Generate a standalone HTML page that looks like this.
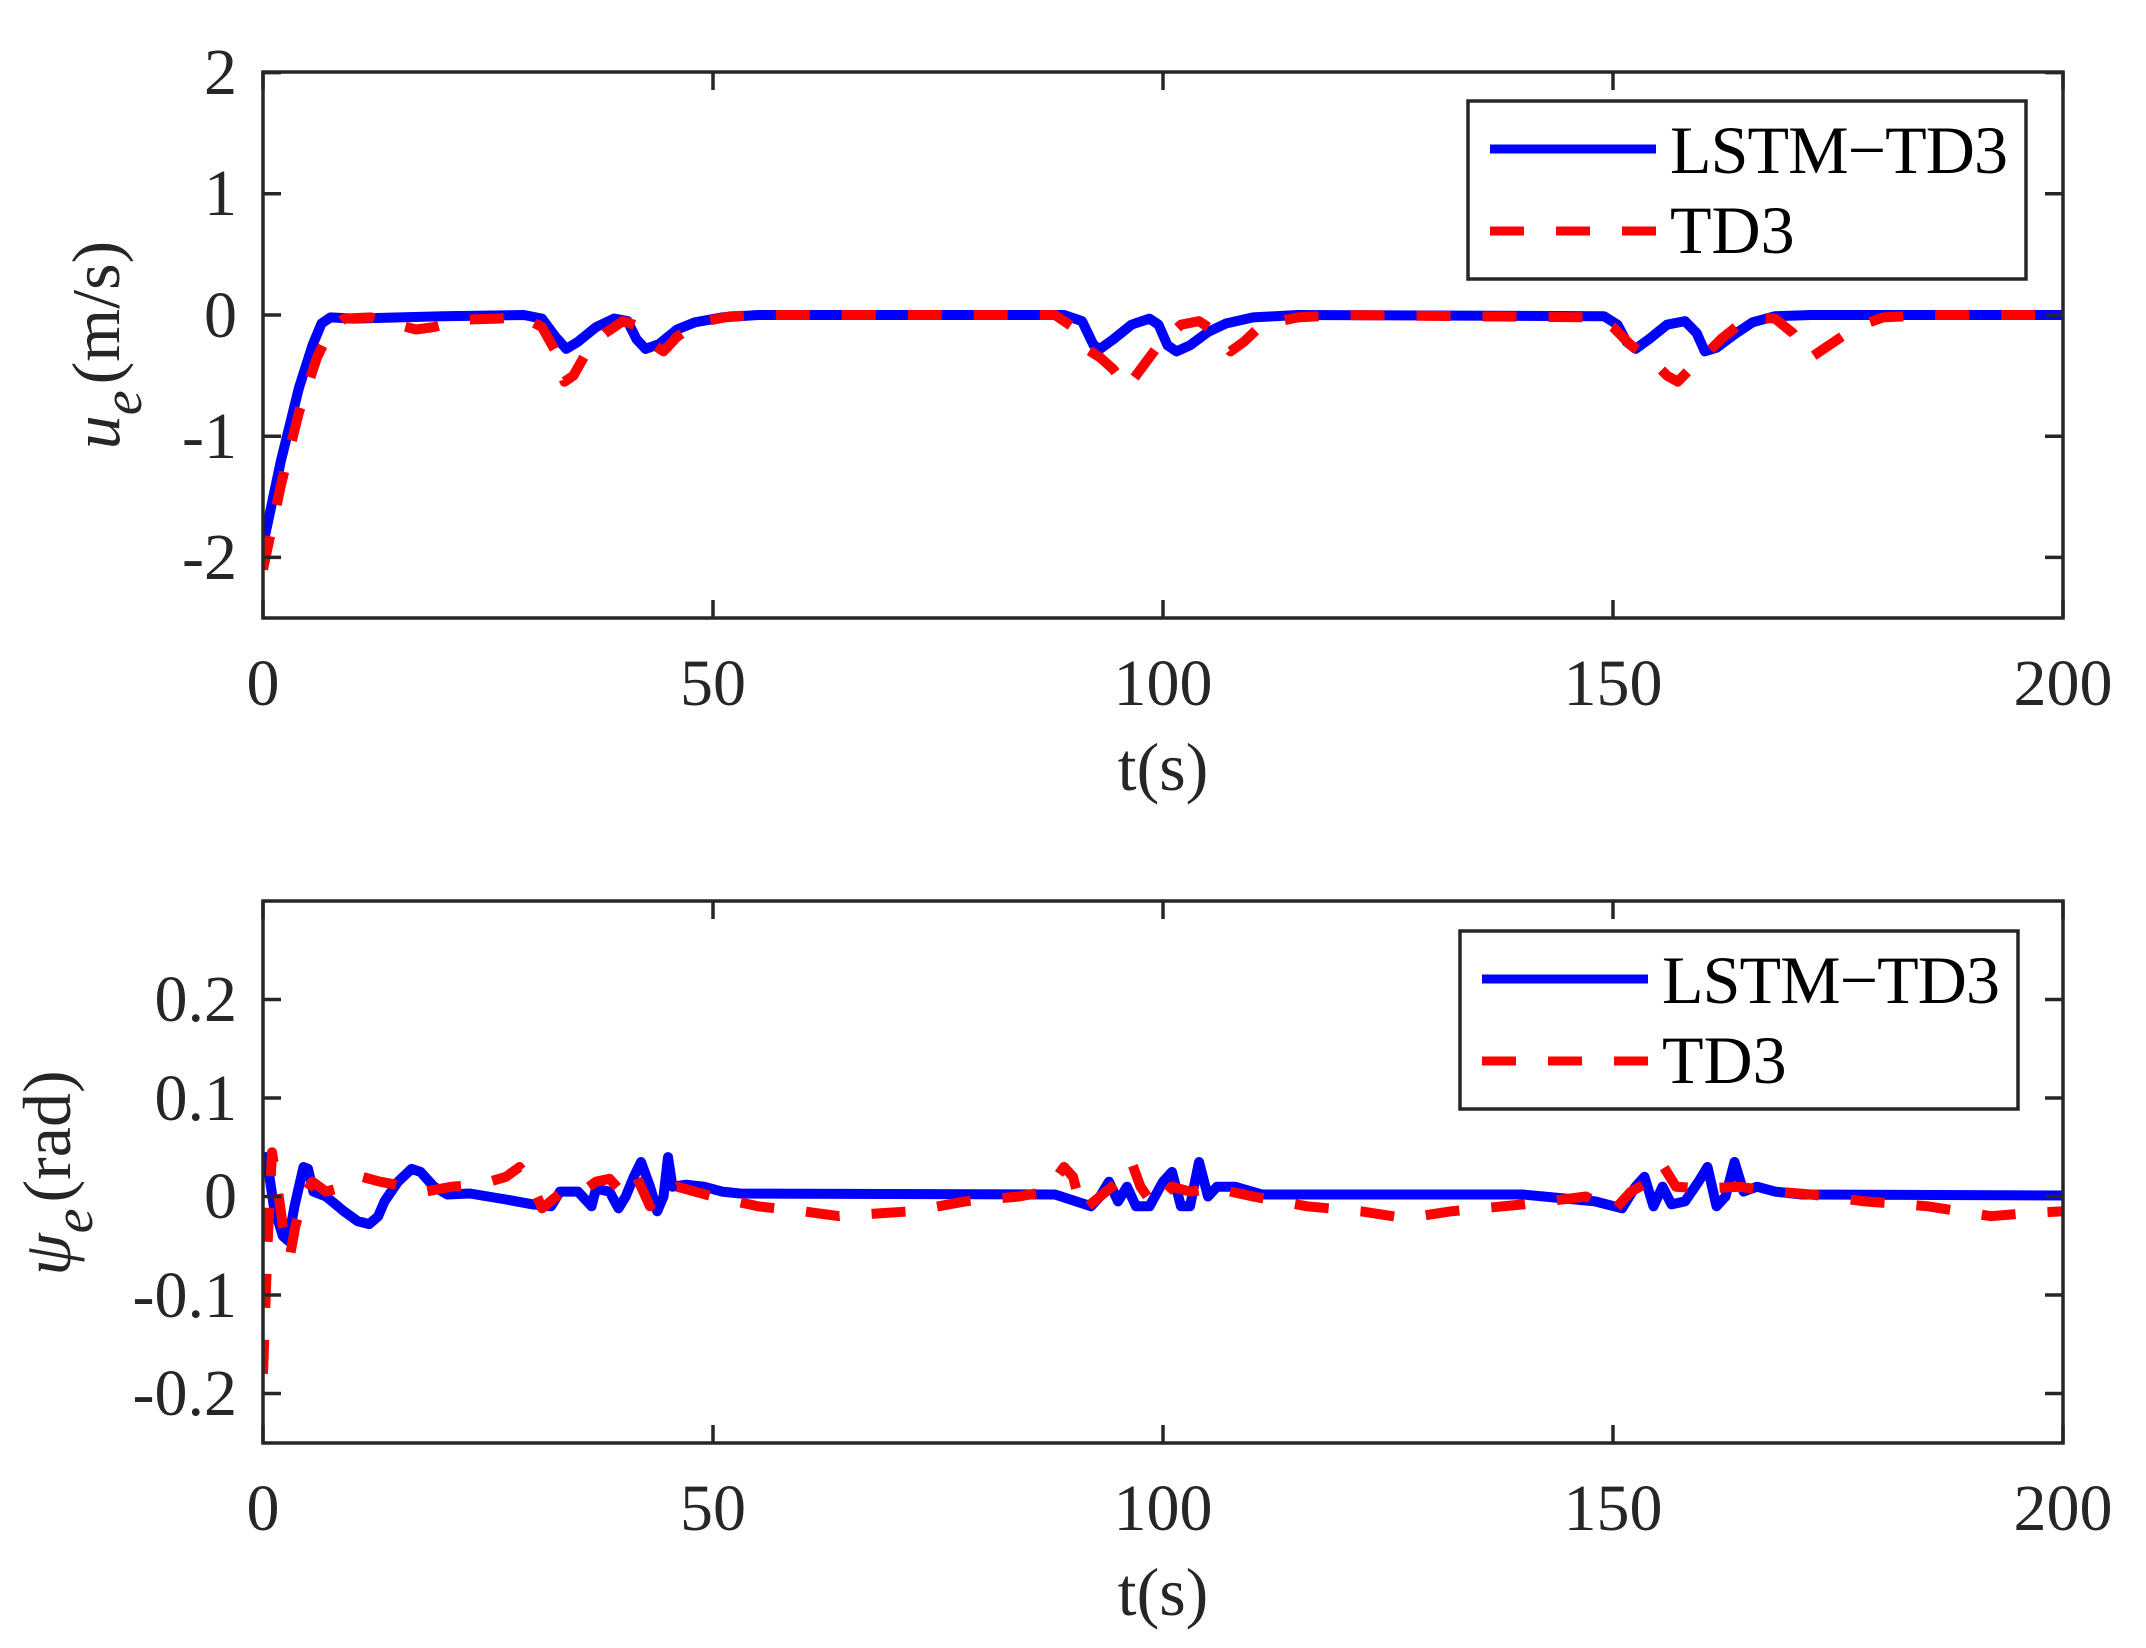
<!DOCTYPE html>
<html><head><meta charset="utf-8">
<style>
html,body{margin:0;padding:0;background:#fff;}
svg{display:block;}
text{font-family:"Liberation Serif","DejaVu Serif",serif;fill:#262626;}
</style></head>
<body>
<svg id="s" width="2146" height="1648" viewBox="0 0 2146 1648" xmlns="http://www.w3.org/2000/svg">
<defs>
<clipPath id="c1"><rect x="263" y="72" width="1800" height="546"/></clipPath>
<clipPath id="c2"><rect x="263" y="901" width="1800" height="542"/></clipPath>
</defs>
<rect width="2146" height="1648" fill="#fff"/>
<g id="plots"></g>
<g stroke="#262626" stroke-width="3.5" fill="none">
<rect x="263" y="72" width="1800" height="546"/>
<rect x="263" y="901" width="1800" height="542"/>
<path id="ticks" d=""/>
</g>
<g font-size="66" text-anchor="end">
<text x="237" y="94">2</text>
<text x="237" y="215">1</text>
<text x="237" y="337">0</text>
<text x="237" y="458">-1</text>
<text x="237" y="579">-2</text>
<text x="237" y="1021">0.2</text>
<text x="237" y="1120">0.1</text>
<text x="237" y="1218">0</text>
<text x="237" y="1317">-0.1</text>
<text x="237" y="1415">-0.2</text>
</g>
<g font-size="66" text-anchor="middle">
<text x="263" y="705">0</text>
<text x="713" y="705">50</text>
<text x="1163" y="705">100</text>
<text x="1613" y="705">150</text>
<text x="2063" y="705">200</text>
<text x="263" y="1530">0</text>
<text x="713" y="1530">50</text>
<text x="1163" y="1530">100</text>
<text x="1613" y="1530">150</text>
<text x="2063" y="1530">200</text>
<text x="1163" y="790" font-size="68">t(s)</text>
<text x="1163" y="1615" font-size="68">t(s)</text>
</g>
<text transform="translate(119,345) rotate(-90)" text-anchor="middle" font-size="68"><tspan font-style="italic">u</tspan><tspan font-style="italic" font-size="56" dy="22">e</tspan><tspan dy="-22" dx="6">(m/s)</tspan></text>
<text transform="translate(70,1173) rotate(-90)" text-anchor="middle" font-size="68"><tspan font-style="italic">ψ</tspan><tspan font-style="italic" font-size="56" dy="22">e</tspan><tspan dy="-22" dx="6">(rad)</tspan></text>
<g>
<rect x="1468" y="101" width="558" height="178" fill="#fff" stroke="#262626" stroke-width="3.5"/>
<line x1="1490" y1="149" x2="1656" y2="149" stroke="#0000ff" stroke-width="9"/>
<line x1="1490" y1="231" x2="1656" y2="231" stroke="#ff0000" stroke-width="9" stroke-dasharray="34 32"/>
<text x="1670" y="173" font-size="68" textLength="338" style="fill:#000">LSTM−TD3</text>
<text x="1670" y="253" font-size="68" style="fill:#000">TD3</text>
<rect x="1460" y="931" width="558" height="178" fill="#fff" stroke="#262626" stroke-width="3.5"/>
<line x1="1482" y1="979" x2="1648" y2="979" stroke="#0000ff" stroke-width="9"/>
<line x1="1482" y1="1061" x2="1648" y2="1061" stroke="#ff0000" stroke-width="9" stroke-dasharray="34 32"/>
<text x="1662" y="1003" font-size="68" textLength="338" style="fill:#000">LSTM−TD3</text>
<text x="1662" y="1083" font-size="68" style="fill:#000">TD3</text>
</g>
</svg>
<script>
(function(){
var NS="http://www.w3.org/2000/svg";
function X(t){return 263+t*9;}
function path(pts,yf){var d="";for(var i=0;i<pts.length;i++){d+=(i?"L":"M")+X(pts[i][0]).toFixed(1)+","+yf(pts[i][1]).toFixed(1);}return d;}
var y1=function(v){return 315-v*121.2;};
var y2=function(v){return 1196.5-v*985;};
var b1=[[0,-1.9],[2,-1.2],[4,-0.6],[5.5,-0.25],[6.5,-0.07],[7.5,-0.02],[10,-0.03],[20,-0.01],[29,0],[31,-0.03],[32.5,-0.18],[33.7,-0.28],[35,-0.22],[37,-0.1],[39,-0.03],[40.5,-0.05],[41.5,-0.2],[42.5,-0.28],[44,-0.24],[46,-0.12],[48,-0.06],[51,-0.02],[55,0],[89,0],[91,-0.05],[92.3,-0.25],[93,-0.28],[94.5,-0.2],[96.5,-0.08],[98.5,-0.03],[99.5,-0.08],[100.5,-0.25],[101.5,-0.3],[103,-0.25],[105,-0.14],[107,-0.07],[110,-0.02],[115,0],[149,-0.01],[150.5,-0.08],[151.5,-0.22],[152.5,-0.28],[154,-0.2],[156,-0.08],[158,-0.05],[159.3,-0.15],[160.2,-0.3],[161.5,-0.27],[163.5,-0.16],[165.5,-0.06],[168,-0.01],[172,0],[200,0]];
var r1=[[0,-2.1],[2,-1.4],[4,-0.8],[6,-0.35],[7.5,-0.12],[9,-0.03],[12,-0.02],[15,-0.08],[17,-0.12],[19,-0.1],[22,-0.04],[26,-0.03],[29,-0.02],[31,-0.1],[32.5,-0.3],[33.5,-0.55],[34.5,-0.5],[36,-0.3],[38,-0.15],[40,-0.05],[42,-0.1],[43.5,-0.25],[44.5,-0.3],[46,-0.18],[48.5,-0.06],[52,-0.01],[56,0],[88,0],[90,-0.1],[91.5,-0.28],[93,-0.35],[94.5,-0.45],[96,-0.6],[97.5,-0.45],[99.5,-0.25],[102,-0.08],[104,-0.05],[106,-0.15],[107.5,-0.3],[109,-0.22],[111,-0.08],[115,-0.02],[120,0],[148,-0.02],[150,-0.1],[152,-0.25],[154,-0.35],[156,-0.5],[157.2,-0.55],[158.5,-0.45],[160,-0.35],[162,-0.2],[164,-0.08],[166,-0.02],[168,-0.03],[170,-0.15],[172,-0.35],[174,-0.25],[177,-0.1],[180,-0.02],[185,0],[200,0]];
var b2=[[0,0.04],[0.4,0.04],[1.2,-0.01],[2.2,-0.04],[2.8,-0.045],[3.5,-0.01],[4.5,0.03],[5,0.028],[5.6,0.005],[7,0],[9,-0.015],[10.5,-0.025],[11.8,-0.028],[12.8,-0.02],[13.5,-0.005],[15,0.015],[16.5,0.028],[17.5,0.025],[19,0.01],[20.5,0.002],[23,0.003],[27,-0.003],[30,-0.008],[32,-0.01],[33,0.005],[35,0.005],[36.5,-0.01],[37,0.008],[38.5,0.005],[39.5,-0.012],[40.3,0],[41.2,0.02],[42,0.035],[43,0.01],[43.8,-0.015],[44.5,0],[45,0.04],[45.5,0.01],[47,0.012],[49,0.01],[51,0.005],[53,0.003],[88,0.002],[92,-0.01],[93,0],[94,0.015],[95,-0.005],[96,0.01],[97,-0.01],[98.5,-0.01],[100,0.015],[101,0.025],[102,-0.01],[103,-0.01],[104,0.035],[105,0],[106,0.01],[108,0.01],[111,0.002],[140,0.002],[148,-0.005],[151,-0.012],[152.5,0.01],[153.5,0.02],[154.5,-0.01],[155.5,0.01],[156.5,-0.008],[158,-0.005],[159.5,0.015],[160.5,0.03],[161.5,-0.01],[162.5,0],[163.5,0.035],[164.5,0.005],[166,0.01],[168,0.005],[171,0.002],[200,0.001]];
var r2=[[0,-0.18],[0.5,-0.05],[1,0.045],[1.6,0.01],[2.2,-0.03],[3,-0.06],[3.6,-0.03],[4.5,0],[5.5,0.015],[7,0.005],[9,0.01],[11,0.02],[13,0.015],[16,0.01],[18,0.005],[21,0.01],[24,0.012],[27,0.02],[28.5,0.03],[30,0.01],[31,-0.012],[33,0.003],[35.5,0.005],[37,0.015],[38.5,0.018],[40,0.003],[41.5,0.02],[43,-0.01],[44,0.005],[46,0.01],[50,0],[55,-0.01],[60,-0.015],[64,-0.02],[67,-0.018],[72,-0.015],[78,-0.005],[84,0],[87,0.005],[89,0.03],[90,0.02],[91,-0.015],[93,0],[95,0.015],[96.5,0.035],[97.5,0.01],[99,-0.01],[101,0.01],[103,0.005],[106,0.008],[110,0],[116,-0.01],[122,-0.015],[127,-0.022],[132,-0.015],[140,-0.008],[147,0],[150,-0.015],[152,0.005],[154,0.015],[155.5,0.032],[157,0.01],[160,0.008],[164,0.01],[168,0.005],[172,0.002],[178,-0.005],[185,-0.01],[192,-0.02],[196,-0.017],[200,-0.015]];
var g=document.getElementById("plots");
function add(d,col,dash,clip){var p=document.createElementNS(NS,"path");p.setAttribute("d",d);p.setAttribute("fill","none");p.setAttribute("stroke",col);p.setAttribute("stroke-width","10");p.setAttribute("stroke-linejoin","round");if(dash)p.setAttribute("stroke-dasharray","34 32");p.setAttribute("clip-path","url(#"+clip+")");g.appendChild(p);}
add(path(b1,y1),"#0000ff",false,"c1");
add(path(r1,y1),"#ff0000",true,"c1");
add(path(b2,y2),"#0000ff",false,"c2");
add(path(r2,y2),"#ff0000",true,"c2");
var d="";var L=18;
[0,50,100,150,200].forEach(function(t){var x=X(t);d+="M"+x+",618v-"+L+"M"+x+",72v"+L+"M"+x+",1443v-"+L+"M"+x+",901v"+L;});
[2,1,0,-1,-2].forEach(function(v){var y=y1(v);d+="M263,"+y+"h"+L+"M2063,"+y+"h-"+L;});
[0.2,0.1,0,-0.1,-0.2].forEach(function(v){var y=y2(v);d+="M263,"+y+"h"+L+"M2063,"+y+"h-"+L;});
document.getElementById("ticks").setAttribute("d",d);
})();
</script>
</body></html>
